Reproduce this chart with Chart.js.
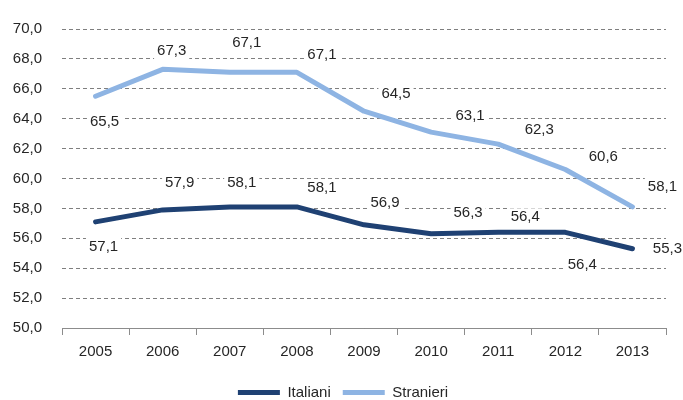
<!DOCTYPE html>
<html>
<head>
<meta charset="utf-8">
<script src="https://cdn.jsdelivr.net/npm/chart.js@4.4.1/dist/chart.umd.min.js"></script>
<style>
  html, body { margin: 0; padding: 0; background: #fff; overflow: hidden; }
</style>
</head>
<body>
<canvas id="grafico" width="683" height="400"></canvas>
<script>
// dati del grafico
var anni = ['2005', '2006', '2007', '2008', '2009', '2010', '2011', '2012', '2013'];
var italiani = [57.1, 57.9, 58.1, 58.1, 56.9, 56.3, 56.4, 56.4, 55.3];
var stranieri = [65.5, 67.3, 67.1, 67.1, 64.5, 63.1, 62.3, 60.6, 58.1];

// spostamento delle etichette rispetto al punto (pixel)
var offsetItaliani = [[8, 25], [17, -27], [12, -24], [25, -19], [21, -22], [37, -21], [27, -15], [17, 33], [35, 0]];
var offsetStranieri = [[9, 26], [9, -19], [17, -29], [25, -17], [32, -17], [39, -16], [41, -14], [38, -13], [30, -20]];

var fontTesto = '"Liberation Sans", Arial, sans-serif';

function formatta(v) {
    return v.toFixed(1).replace('.', ',');
}

// plugin per le etichette dei valori con sfondo bianco
var etichette = {
    id: 'etichette',
    afterLayout: function (chart) {
        // legenda un po' più a destra, come nell'originale
        chart.legend.left += 10;
        chart.legend.right += 10;
    },
    afterDatasetsDraw: function (chart) {
        var ctx = chart.ctx;
        ctx.save();
        ctx.font = '15px ' + fontTesto;
        ctx.textAlign = 'center';
        ctx.textBaseline = 'middle';
        chart.data.datasets.forEach(function (ds, i) {
            var meta = chart.getDatasetMeta(i);
            meta.data.forEach(function (pt, j) {
                var off = ds.offsets[j];
                var testo = formatta(ds.data[j]);
                var x = pt.x + off[0];
                var y = pt.y + off[1];
                var w = ctx.measureText(testo).width;
                ctx.fillStyle = '#ffffff';
                ctx.fillRect(x - w / 2 - 3, y - 9, w + 6, 18);
                ctx.fillStyle = '#262626';
                ctx.fillText(testo, x, y);
            });
        });
        ctx.restore();
    }
};

var ctx = document.getElementById('grafico').getContext('2d');

new Chart(ctx, {
    type: 'line',
    data: {
        labels: anni,
        datasets: [{
            label: 'Italiani',
            data: italiani,
            offsets: offsetItaliani,
            borderColor: '#1f4173',
            backgroundColor: '#1f4173',
            borderWidth: 5,
            borderCapStyle: 'round',
            borderJoinStyle: 'round',
            pointRadius: 0,
            tension: 0
        }, {
            label: 'Stranieri',
            data: stranieri,
            offsets: offsetStranieri,
            borderColor: '#8eb4e3',
            backgroundColor: '#8eb4e3',
            borderWidth: 5,
            borderCapStyle: 'round',
            borderJoinStyle: 'round',
            pointRadius: 0,
            tension: 0
        }]
    },
    options: {
        responsive: false,
        animation: false,
        layout: {
            padding: { top: 23, right: 17, bottom: -10, left: 0 }
        },
        scales: {
            x: {
                offset: true,
                grid: {
                    display: true,
                    offset: true,
                    drawOnChartArea: false,
                    drawTicks: true,
                    tickLength: 7,
                    color: '#8c8c8c'
                },
                border: { display: true, color: '#8c8c8c', width: 1 },
                ticks: {
                    padding: 8,
                    color: '#262626',
                    font: { family: fontTesto, size: 15 },
                    maxRotation: 0
                },
                afterFit: function (scale) {
                    scale.height = 45;
                }
            },
            y: {
                min: 50,
                max: 70,
                ticks: {
                    stepSize: 2,
                    padding: 20,
                    color: '#262626',
                    font: { family: fontTesto, size: 15 },
                    callback: function (value) {
                        return formatta(value);
                    }
                },
                grid: {
                    color: '#7f7f7f',
                    lineWidth: 1,
                    drawTicks: false,
                    borderDash: [4, 3]
                },
                border: { display: true, width: 0, color: 'rgba(0,0,0,0)', dash: [4, 3] },
                afterFit: function (scale) {
                    scale.width = 62;
                }
            }
        },
        plugins: {
            legend: {
                position: 'bottom',
                labels: {
                    usePointStyle: true,
                    pointStyle: 'line',
                    pointStyleWidth: 42,
                    padding: 12,
                    color: '#262626',
                    font: { family: fontTesto, size: 15 }
                }
            },
            tooltip: { enabled: false }
        }
    },
    plugins: [etichette]
});
</script>
</body>
</html>
